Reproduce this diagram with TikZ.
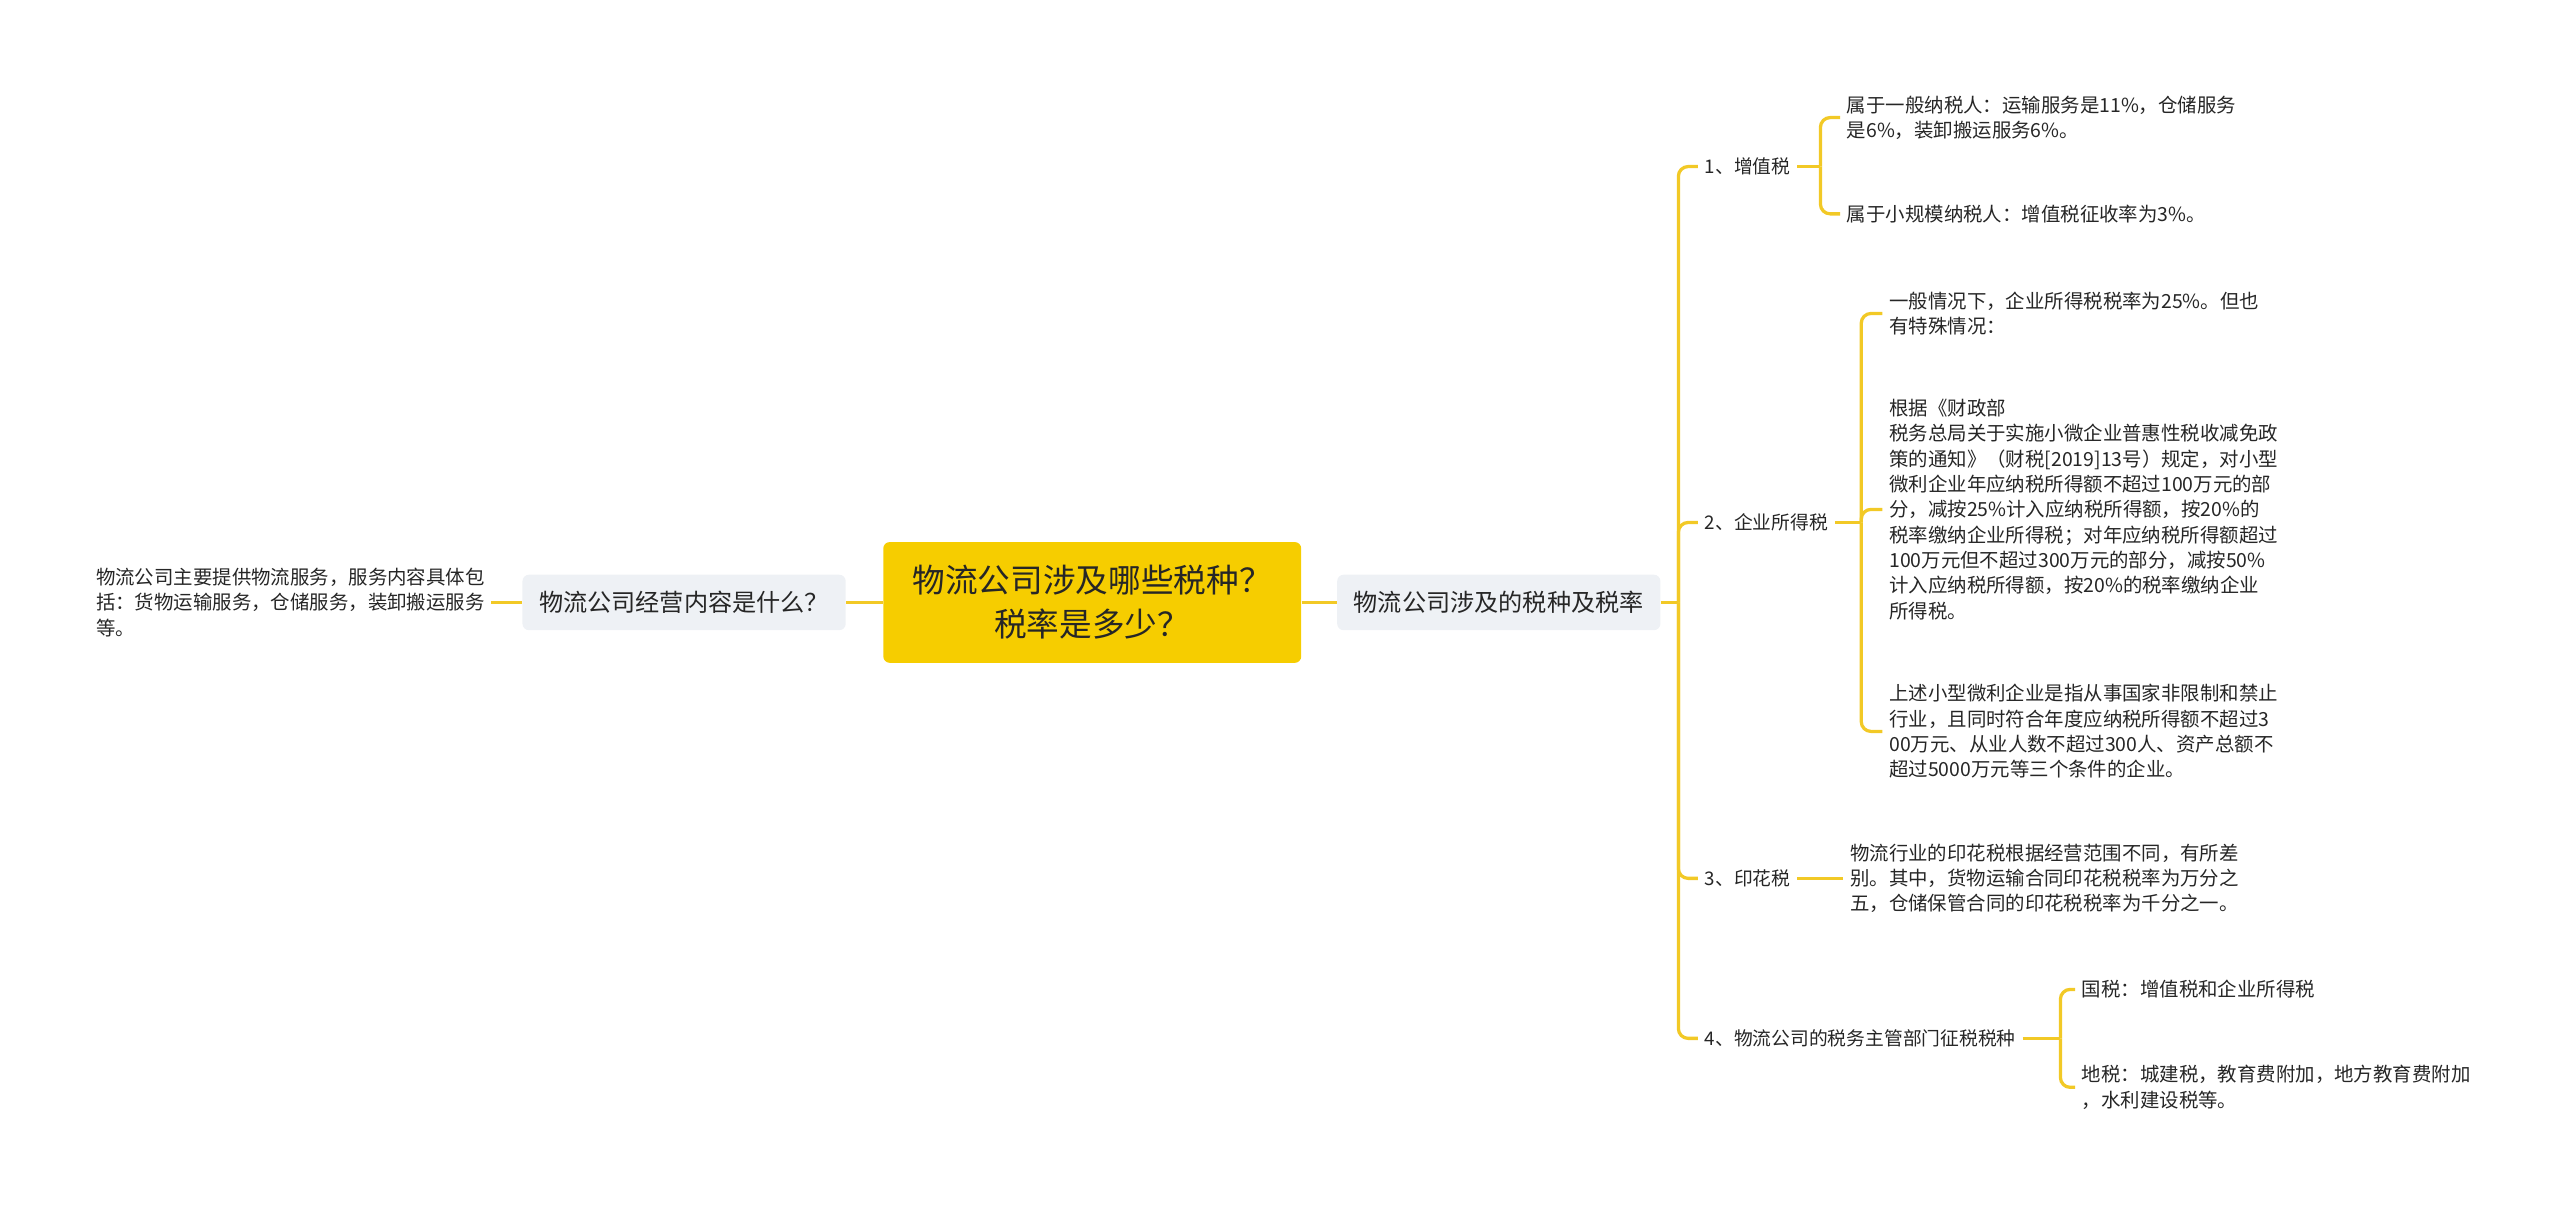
\documentclass[tikz,border=0pt]{standalone}
\usepackage{fontspec}
\setmainfont{Noto Sans CJK SC}
\definecolor{mapcolor0001}{RGB}{38,38,38}
\definecolor{mapcolor0002}{RGB}{246,205,0}
\definecolor{mapcolor0003}{RGB}{238,241,245}
\definecolor{mapcolor0004}{RGB}{242,201,38}

\begin{document}
\begin{tikzpicture}[yscale=-1
            ,pstyle0/.style={fill=mapcolor0002,rounded corners=4pt,minimum width=256pt,minimum height=74pt,align=center,text=mapcolor0001,font=\fontsize{20pt}{27pt}\selectfont}
            ,pstyle1/.style={fill=mapcolor0003,rounded corners=4pt,minimum width=198pt,minimum height=34pt,text=mapcolor0001,font=\fontsize{14.8pt}{18pt}\selectfont}
            ,pstyle2/.style={anchor=west,inner xsep=4pt,inner ysep=0pt,text=mapcolor0001,font=\fontsize{11.5pt}{15.5pt}\selectfont}
            ,pstyle3/.style={anchor=west,inner xsep=4pt,inner ysep=0pt,align=left,text=mapcolor0001,font=\fontsize{11.9pt}{15.5pt}\selectfont}
            ,pstyle4/.style={draw=mapcolor0004,line width=2pt}
            ,pstyle5/.style={draw=mapcolor0004,line width=2pt,rounded corners=6pt}
        ]
        \useasboundingbox (0pt,0pt) rectangle (1568pt,738pt);
        \node[pstyle0] (root) at (669pt,369pt) {物流公司涉及哪些税种？\\税率是多少？};
        \node[pstyle1] (ask) at (419pt,369pt) {物流公司经营内容是什么？};
        \node[pstyle3,anchor=east] (askleaf) at (301pt,369pt) {物流公司主要提供物流服务，服务内容具体包\\括：货物运输服务，仓储服务，装卸搬运服务\\等。};
        \node[pstyle1] (tax) at (918pt,369pt) {物流公司涉及的税种及税率};
        \node[pstyle2] (vat) at (1040pt,102pt) {1、增值税};
        \node[pstyle2] (cit) at (1040pt,320pt) {2、企业所得税};
        \node[pstyle2] (stamp) at (1040pt,538pt) {3、印花税};
        \node[pstyle2] (office) at (1040pt,636pt) {4、物流公司的税务主管部门征税税种};
        \node[pstyle3] (vat1) at (1127pt,72pt) {属于一般纳税人：运输服务是11\%，仓储服务\\是6\%，装卸搬运服务6\%。};
        \node[pstyle3] (vat2) at (1127pt,131pt) {属于小规模纳税人：增值税征收率为3\%。};
        \node[pstyle3] (cit1) at (1153pt,192pt) {一般情况下，企业所得税税率为25\%。但也\\有特殊情况：};
        \node[pstyle3] (cit2) at (1153pt,312pt) {根据《财政部\\税务总局关于实施小微企业普惠性税收减免政\\策的通知》（财税[2019]13号）规定，对小型\\微利企业年应纳税所得额不超过100万元的部\\分，减按25\%计入应纳税所得额，按20\%的\\税率缴纳企业所得税；对年应纳税所得额超过\\100万元但不超过300万元的部分，减按50\%\\计入应纳税所得额，按20\%的税率缴纳企业\\所得税。};
        \node[pstyle3] (cit3) at (1153pt,448pt) {上述小型微利企业是指从事国家非限制和禁止\\行业，且同时符合年度应纳税所得额不超过3\\00万元、从业人数不超过300人、资产总额不\\超过5000万元等三个条件的企业。};
        \node[pstyle3] (stamp1) at (1129pt,538pt) {物流行业的印花税根据经营范围不同，有所差\\别。其中，货物运输合同印花税税率为万分之\\五，仓储保管合同的印花税税率为千分之一。};
        \node[pstyle3] (office1) at (1271pt,606pt) {国税：增值税和企业所得税};
        \node[pstyle3] (office2) at (1271pt,666pt) {地税：城建税，教育费附加，地方教育费附加\\，水利建设税等。};
        % fork points of the brackets
        \coordinate (taxfork) at (1028pt,369pt);
        \coordinate (vatfork) at (1115pt,102pt);
        \coordinate (citfork) at (1140pt,320pt);
        \coordinate (officefork) at (1262pt,636pt);
        \draw[pstyle4] (root.west) -- (ask.east);
        \draw[pstyle4] (ask.west) -- (askleaf.east);
        \draw[pstyle4] (root.east) -- (tax.west);
        \draw[pstyle4] (tax.east) -- (taxfork);
        \draw[pstyle5] (taxfork) |- (vat.west);
        \draw[pstyle5] (taxfork) |- (cit.west);
        \draw[pstyle5] (taxfork) |- (stamp.west);
        \draw[pstyle5] (taxfork) |- (office.west);
        \draw[pstyle4] (vat.east) -- (vatfork);
        \draw[pstyle5] (vatfork) |- (vat1.west);
        \draw[pstyle5] (vatfork) |- (vat2.west);
        \draw[pstyle4] (cit.east) -- (citfork);
        \draw[pstyle5] (citfork) |- (cit1.west);
        \draw[pstyle5] (citfork) |- (cit2.west);
        \draw[pstyle5] (citfork) |- (cit3.west);
        \draw[pstyle4] (stamp.east) -- (stamp1.west);
        \draw[pstyle4] (office.east) -- (officefork);
        \draw[pstyle5] (officefork) |- (office1.west);
        \draw[pstyle5] (officefork) |- (office2.west);
    \end{tikzpicture}
\end{document}
